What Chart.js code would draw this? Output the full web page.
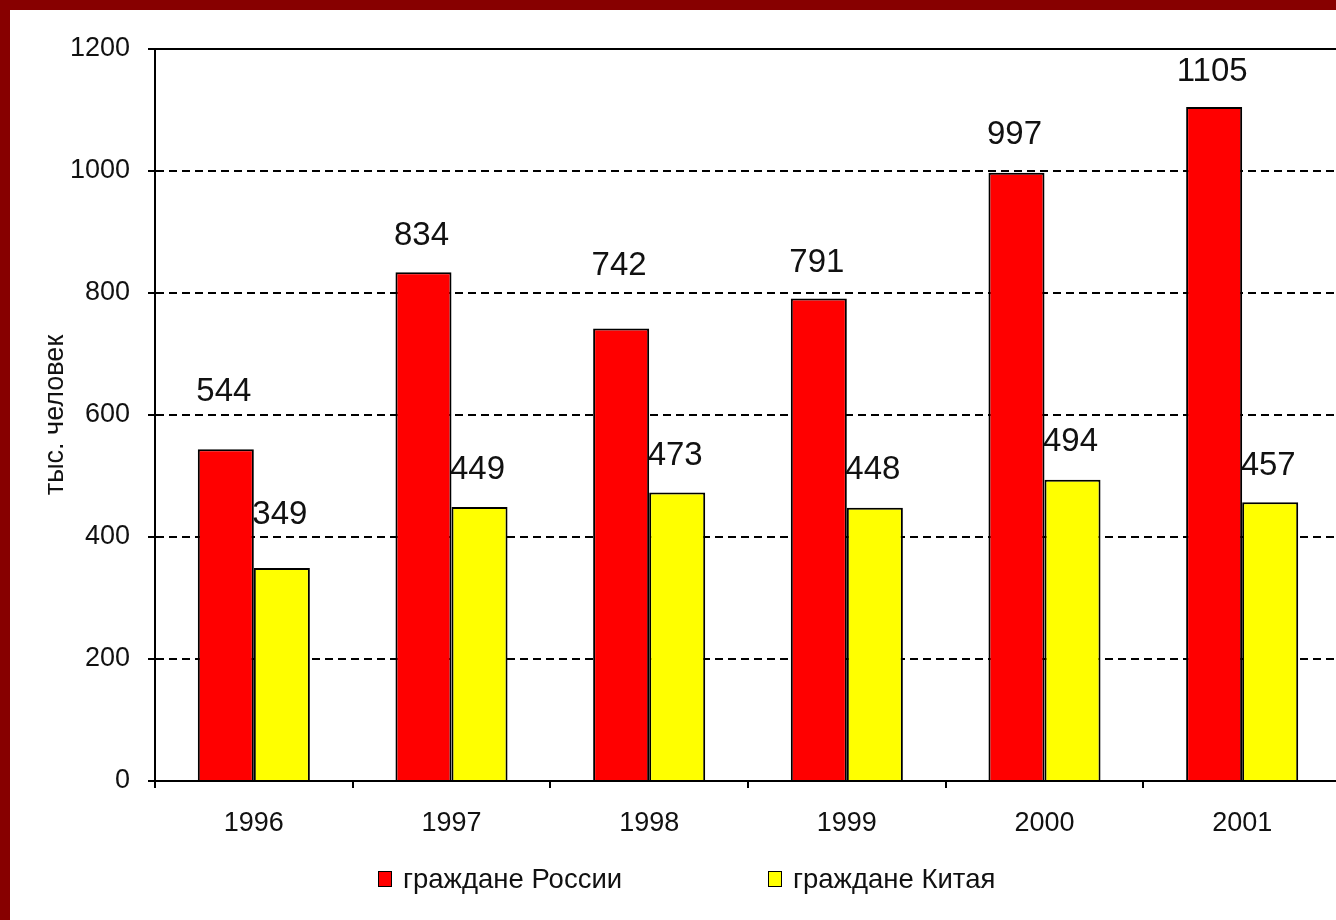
<!DOCTYPE html>
<html><head><meta charset="utf-8">
<script src="https://cdn.jsdelivr.net/npm/chart.js@4.4.0/dist/chart.umd.min.js"></script>
<style>
html,body{margin:0;padding:0;overflow:hidden;background:#870000;width:1336px;height:920px;}
#panel{position:absolute;left:10px;top:10px;width:1331px;height:910px;background:#fff;overflow:hidden;}
#c{position:absolute;left:0;top:0;}
.item{position:absolute;top:854px;height:30px;display:flex;align-items:center;font:27.5px "Liberation Sans",Arial,sans-serif;color:#111;white-space:nowrap;}
.sw{width:14px;height:16px;border:1.5px solid #000;margin-right:11px;box-sizing:border-box;}
</style></head>
<body>
<div id="panel"><canvas id="c" width="1331" height="910"></canvas></div>
<script>
const years = ['1996','1997','1998','1999','2000','2001'];
const russia = [544, 834, 742, 791, 997, 1105];
const china = [349, 449, 473, 448, 494, 457];
const yTicks = [0, 200, 400, 600, 800, 1000, 1200];
const seriesNames = ['граждане России', 'граждане Китая'];
const yTitle = 'тыс. человек';

const FONT = '"Liberation Sans", Arial, sans-serif';
// label lift above bar top (px), per dataset / point
const labelLift = [[57, 36, 62, 36, 38, 35], [53, 37, 37, 38, 38, 36]];

const valueLabels = {
  id: 'valueLabels',
  afterDatasetsDraw(chart) {
    const ctx = chart.ctx;
    ctx.save();
    ctx.font = '33px ' + FONT;
    ctx.fillStyle = '#111';
    ctx.textAlign = 'center';
    ctx.textBaseline = 'middle';
    chart.data.datasets.forEach((ds, di) => {
      chart.getDatasetMeta(di).data.forEach((bar, i) => {
        ctx.fillText(String(ds.data[i]), bar.x - 2, bar.y - labelLift[di][i]);
      });
    });
    ctx.restore();
  }
};
const frame = {
  id: 'frame',
  afterDraw(chart) {
    const a = chart.chartArea, ctx = chart.ctx;
    ctx.save();
    ctx.strokeStyle = '#000';
    ctx.lineWidth = 2;
    ctx.strokeRect(a.left, a.top, a.right - a.left, a.bottom - a.top);
    ctx.restore();
  }
};

const chart = new Chart(document.getElementById('c'), {
  type: 'bar',
  data: {
    labels: years,
    datasets: [
      { label: seriesNames[0], data: russia, backgroundColor: '#FF0000', borderColor: '#000', borderWidth: 2 },
      { label: seriesNames[1], data: china, backgroundColor: '#FFFF00', borderColor: '#000', borderWidth: 2 }
    ]
  },
  options: {
    responsive: false,
    animation: false,
    devicePixelRatio: 1,
    categoryPercentage: 0.567,
    barPercentage: 1,
    layout: { padding: { top: 39, right: 0, bottom: 0, left: 0 } },
    plugins: { legend: { display: false }, tooltip: { enabled: false } },
    scales: {
      x: {
        grid: { drawOnChartArea: false, drawTicks: true, tickLength: 7, color: '#000', lineWidth: 2, offset: true },
        border: { display: true, color: '#000', width: 2 },
        ticks: { font: { family: FONT, size: 27 }, color: '#111', padding: 19 },
        afterFit(s) { s.height = 139; }
      },
      y: {
        min: 0, max: 1200,
        afterBuildTicks(s) { s.ticks = yTicks.map(v => ({ value: v })); },
        grid: { color: '#000', lineWidth: 2, tickLength: 7, tickColor: '#000', tickWidth: 2 },
        border: { display: true, color: '#000', width: 2, dash: [8, 5] },
        ticks: { font: { family: FONT, size: 27 }, color: '#111', padding: 18, callback: v => String(v) },
        title: { display: true, text: yTitle, font: { family: FONT, size: 27 }, color: '#111', padding: { top: 29, bottom: 0 } },
        afterFit(s) { s.width = 145; }
      }
    }
  },
  plugins: [valueLabels, frame]
});

// legend (HTML)
const legendLeft = [368, 758];
chart.data.datasets.forEach((ds, i) => {
  const it = document.createElement('div');
  it.className = 'item';
  it.style.left = legendLeft[i] + 'px';
  const sw = document.createElement('span');
  sw.className = 'sw';
  sw.style.background = ds.backgroundColor;
  const tx = document.createElement('span');
  tx.textContent = ds.label;
  it.appendChild(sw); it.appendChild(tx);
  document.getElementById('panel').appendChild(it);
});
</script>
</body></html>
